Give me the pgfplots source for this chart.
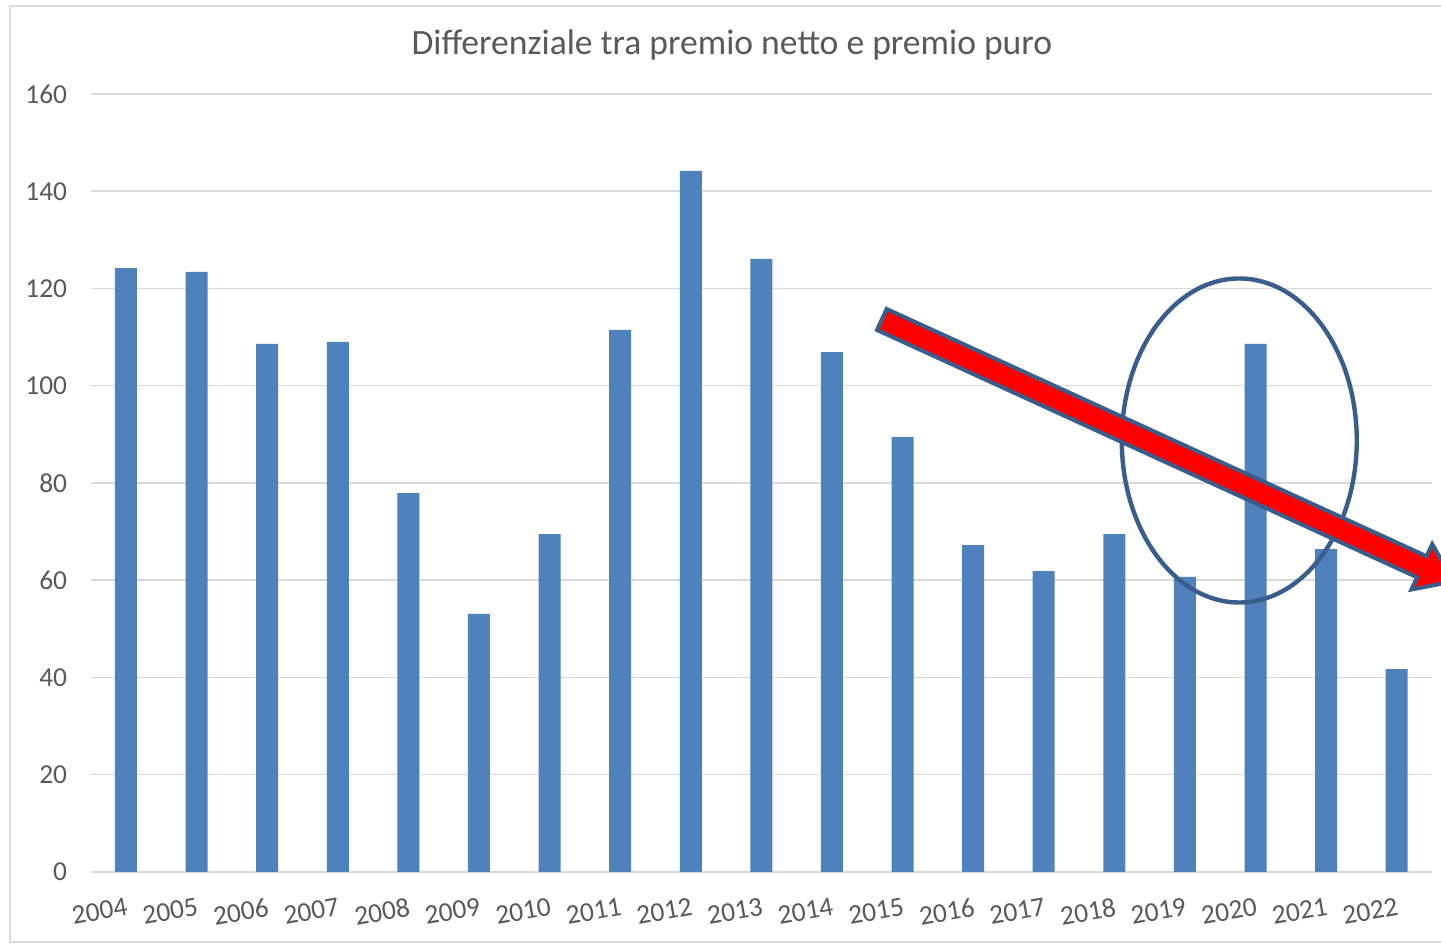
\documentclass[border=0pt]{standalone}
\usepackage{pgfplots}
\pgfplotsset{compat=1.18}
\usepackage{fontspec}
\setmainfont{Carlito}
\definecolor{barblue}{HTML}{4F81BD}
\definecolor{gridgray}{HTML}{D9D9D9}
\definecolor{textgray}{HTML}{595959}
\definecolor{ellcol}{HTML}{3A5E8C}
\begin{document}
\begin{tikzpicture}
\useasboundingbox (-45.35pt,-37pt) rectangle (675.15pt,436pt);
\draw[color=gridgray, line width=0.8pt] (-40.35pt,-35pt) rectangle (700pt,433pt);
\begin{axis}[
  scale only axis, width=670.65pt, height=389pt,
  xmin=2003.5, xmax=2022.5, ymin=0, ymax=160,
  ytick={0,20,...,160},
  xtick={2004,2005,...,2022},
  ymajorgrids, grid style={gridgray, line width=0.75pt},
  axis line style={draw=none},
  major tick length=0pt,
  tick label style={font=\fontsize{13.7}{16}\selectfont, text=textgray},
  /pgf/number format/assume math mode=true,
  xticklabel style={/pgf/number format/1000 sep={}, rotate=10, anchor=north east, yshift=-9pt, xshift=1pt},
  yticklabel style={xshift=-8.3pt},
  clip=false,
  ybar, bar width=11pt,
]
\addplot[fill=barblue, draw=none] coordinates {
 (2004,124.2) (2005,123.4) (2006,108.6) (2007,109.0) (2008,77.9)
 (2009,53.1) (2010,69.5) (2011,111.5) (2012,144.2) (2013,126.1)
 (2014,106.9) (2015,89.5) (2016,67.2) (2017,61.9) (2018,69.5)
 (2019,60.7) (2020,108.6) (2021,66.4) (2022,41.7)
};
\node[font=\fontsize{17.8}{21}\selectfont, text=textgray, anchor=base, yshift=19.5pt] at (rel axis cs:0.478,1) {Differenziale tra premio netto e premio puro};
\draw[ellcol, line width=2.2pt] (axis cs:2019.77,88.74) ellipse [x radius=58.75pt, y radius=81pt];
\draw[ellcol, line width=2pt, fill=red, line join=miter]
  (axis cs:2014.775,115.78) -- (axis cs:2022.424,64.93) -- (axis cs:2022.503,67.43)
  -- (axis cs:2022.806,59.76) -- (axis cs:2022.209,58.10) -- (axis cs:2022.288,60.61)
  -- (axis cs:2014.639,111.47) -- cycle;
\end{axis}
\end{tikzpicture}
\end{document}
